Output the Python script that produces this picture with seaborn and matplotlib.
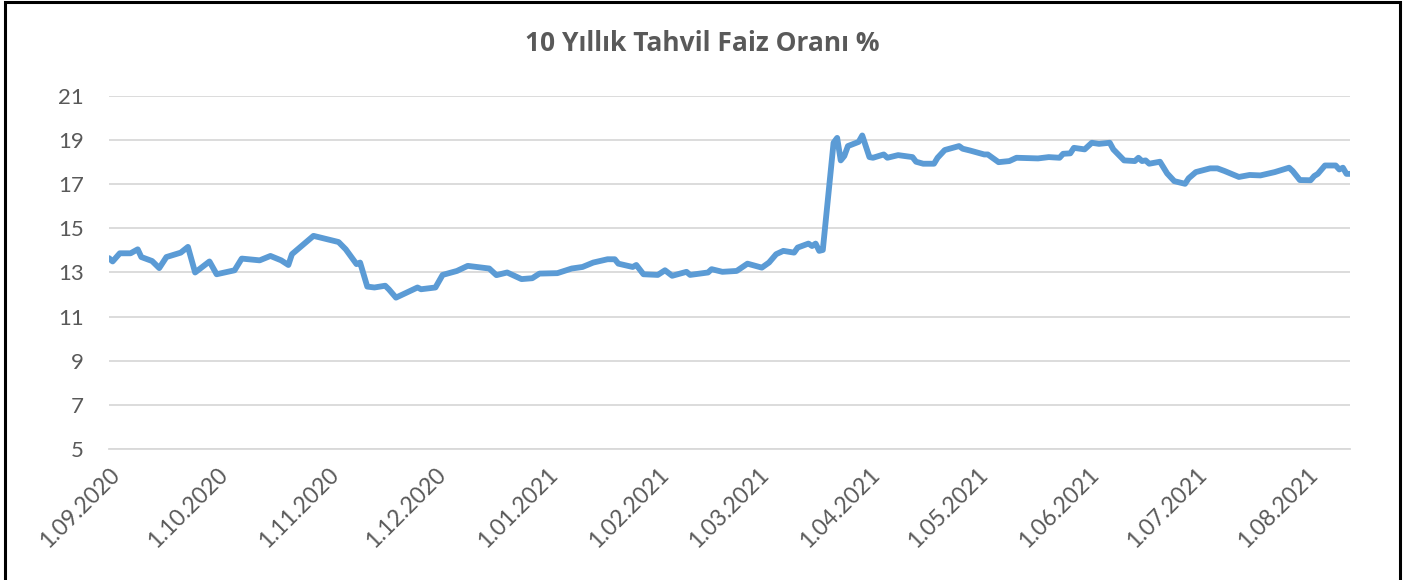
import matplotlib.pyplot as plt
import matplotlib.dates as mdates
from matplotlib.patches import Rectangle
import seaborn as sns
import pandas as pd

# veriler (grafikten okunan yaklaşık değerler)
dates = ['2020-09-01', '2020-09-02', '2020-09-04', '2020-09-07', '2020-09-09', '2020-09-10',
         '2020-09-13', '2020-09-15', '2020-09-17', '2020-09-21', '2020-09-23', '2020-09-25',
         '2020-09-29', '2020-10-01', '2020-10-06', '2020-10-08', '2020-10-13', '2020-10-16',
         '2020-10-19', '2020-10-21', '2020-10-22', '2020-10-28', '2020-11-04', '2020-11-06',
         '2020-11-09', '2020-11-10', '2020-11-12', '2020-11-14', '2020-11-17', '2020-11-18',
         '2020-11-20', '2020-11-23', '2020-11-26', '2020-11-27', '2020-12-01', '2020-12-03',
         '2020-12-07', '2020-12-10', '2020-12-16', '2020-12-18', '2020-12-21', '2020-12-25',
         '2020-12-28', '2020-12-30', '2021-01-04', '2021-01-08', '2021-01-11', '2021-01-14',
         '2021-01-18', '2021-01-20', '2021-01-21', '2021-01-25', '2021-01-26', '2021-01-28',
         '2021-02-01', '2021-02-03', '2021-02-05', '2021-02-09', '2021-02-10', '2021-02-15',
         '2021-02-16', '2021-02-19', '2021-02-23', '2021-02-26', '2021-03-02', '2021-03-04',
         '2021-03-06', '2021-03-08', '2021-03-11', '2021-03-12', '2021-03-15', '2021-03-16',
         '2021-03-17', '2021-03-18', '2021-03-19', '2021-03-22', '2021-03-23', '2021-03-24',
         '2021-03-25', '2021-03-26', '2021-03-29', '2021-03-30', '2021-04-01', '2021-04-02',
         '2021-04-05', '2021-04-06', '2021-04-09', '2021-04-13', '2021-04-14', '2021-04-16',
         '2021-04-19', '2021-04-20', '2021-04-22', '2021-04-26', '2021-04-27', '2021-04-29',
         '2021-05-03', '2021-05-04', '2021-05-07', '2021-05-10', '2021-05-12', '2021-05-18',
         '2021-05-21', '2021-05-24', '2021-05-25', '2021-05-27', '2021-05-28', '2021-05-31',
         '2021-06-02', '2021-06-04', '2021-06-07', '2021-06-08', '2021-06-11', '2021-06-14',
         '2021-06-15', '2021-06-16', '2021-06-17', '2021-06-18', '2021-06-21', '2021-06-23',
         '2021-06-25', '2021-06-28', '2021-06-29', '2021-07-01', '2021-07-05', '2021-07-07',
         '2021-07-09', '2021-07-13', '2021-07-16', '2021-07-19', '2021-07-23', '2021-07-27',
         '2021-07-28', '2021-07-30', '2021-08-02', '2021-08-03', '2021-08-04', '2021-08-06',
         '2021-08-09', '2021-08-10', '2021-08-11', '2021-08-12', '2021-08-13']
rates = [13.65, 13.50, 13.87, 13.87, 14.05, 13.70,
         13.52, 13.20, 13.70, 13.90, 14.16, 13.00,
         13.50, 12.92, 13.10, 13.63, 13.55, 13.75,
         13.55, 13.34, 13.83, 14.66, 14.38, 14.05,
         13.38, 13.45, 12.36, 12.32, 12.40, 12.24,
         11.86, 12.09, 12.32, 12.24, 12.32, 12.89,
         13.07, 13.30, 13.18, 12.88, 13.00, 12.70,
         12.74, 12.95, 12.97, 13.18, 13.25, 13.45,
         13.60, 13.60, 13.40, 13.25, 13.34, 12.92,
         12.89, 13.10, 12.85, 13.03, 12.89, 13.00,
         13.15, 13.03, 13.07, 13.40, 13.22, 13.45,
         13.83, 13.98, 13.90, 14.13, 14.31, 14.20,
         14.31, 13.98, 14.02, 18.88, 19.10, 18.08,
         18.28, 18.73, 18.92, 19.21, 18.23, 18.20,
         18.35, 18.20, 18.32, 18.23, 18.02, 17.93,
         17.93, 18.20, 18.55, 18.73, 18.61, 18.53,
         18.35, 18.35, 18.00, 18.05, 18.20, 18.17,
         18.23, 18.20, 18.38, 18.40, 18.65, 18.58,
         18.88, 18.83, 18.88, 18.58, 18.08, 18.05,
         18.20, 18.05, 18.08, 17.93, 18.02, 17.49,
         17.14, 17.02, 17.27, 17.55, 17.72, 17.72,
         17.60, 17.33, 17.42, 17.40, 17.55, 17.75,
         17.60, 17.19, 17.18, 17.37, 17.47, 17.85,
         17.85, 17.67, 17.75, 17.47, 17.47]

df = pd.DataFrame({'Tarih': pd.to_datetime(dates), 'Faiz': rates})

sns.set_style("white")
plt.rcParams['font.family'] = ['Lato', 'DejaVu Sans']

fig = plt.figure(figsize=(14.05, 5.8), dpi=100)
ax = fig.add_axes([0.0776, 0.2259, 0.8833, 0.6086])

sns.lineplot(data=df, x='Tarih', y='Faiz', ax=ax, color='#5b9bd5', linewidth=4.2)

# eksenler
ax.set_ylim(5, 21)
ax.set_yticks(range(5, 22, 2))
ax.set_xlim(pd.Timestamp('2020-09-01'), df['Tarih'].max())
ax.xaxis.set_major_locator(mdates.MonthLocator())
ax.xaxis.set_major_formatter(mdates.DateFormatter('1.%m.%Y'))
ax.grid(axis='y', color='#d9d9d9', linewidth=1.3)
ax.set_axisbelow(True)
for s in ['top', 'right', 'left']:
    ax.spines[s].set_visible(False)
ax.spines['bottom'].set_color('#d9d9d9')
ax.spines['bottom'].set_linewidth(1.3)
ax.tick_params(axis='x', length=8, width=1.3, color='#d9d9d9', labelsize=16.5,
               labelcolor='#595959', pad=3)
ax.tick_params(axis='y', length=0, labelsize=16, labelcolor='#595959', pad=18)
for lbl in ax.get_xticklabels():
    lbl.set_rotation(45)
    lbl.set_ha('right')
    lbl.set_va('top')
    lbl.set_rotation_mode('anchor')
ax.set_xlabel('')
ax.set_ylabel('')

fig.text(0.5, 0.925, '10 Yıllık Tahvil Faiz Oranı %', ha='center', va='center',
         fontsize=19, fontweight='bold', color='#595959', family=['Open Sans', 'DejaVu Sans'])

# grafik çerçevesi
fig.patches.append(Rectangle((0.0036, -0.05), 0.9929, 1.046, transform=fig.transFigure,
                             fill=False, edgecolor='black', linewidth=2.2))

plt.savefig('out.png', dpi=100)
